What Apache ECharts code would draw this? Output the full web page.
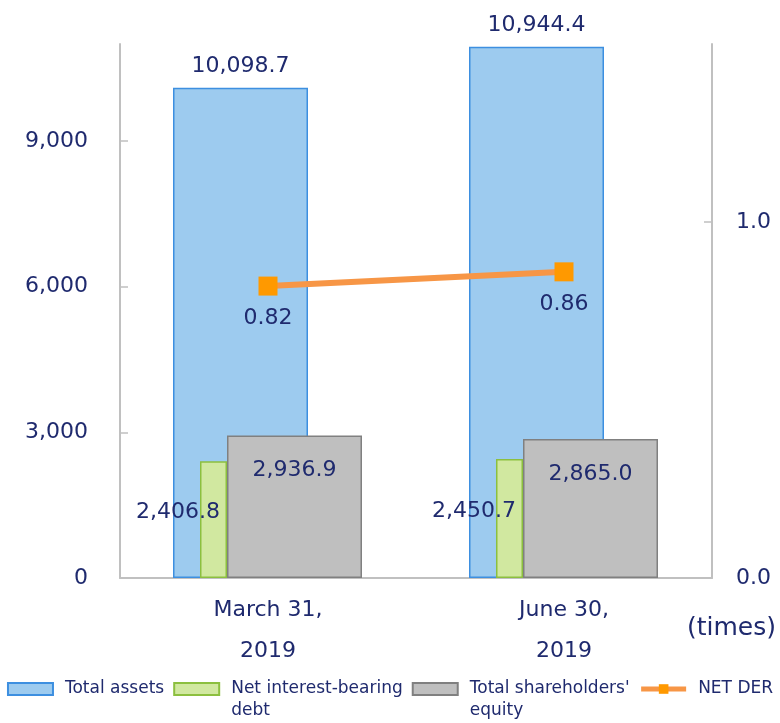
<!DOCTYPE html>
<html>
<head>
<meta charset="utf-8">
<script src="https://cdn.jsdelivr.net/npm/echarts@6/dist/echarts.min.js"></script>
<style>
  html, body { margin: 0; padding: 0; background: #fff; }
  #chart { width: 780px; height: 723px; }
</style>
</head>
<body>
<div id="chart"></div>
<script>
// data
var categories = ["March 31,\n2019", "June 30,\n2019"];
var totalAssets = [10098.7, 10944.4];
var netDebt = [2406.8, 2450.7];
var equity = [2936.9, 2865.0];
var netDer = [0.82, 0.86];
var leftTicks = [0, 3000, 6000, 9000];
var rightTicks = [0, 1];

var navy = "#1f2a6e";
var font = "DejaVu Sans";
var fmt = function (v) {
  return v.toLocaleString("en-US", { minimumFractionDigits: 1, maximumFractionDigits: 1 });
};

// 图例文字：三行，中间一行对齐图标
var legendText = {
  "Total assets": " \nTotal assets\n ",
  "Net interest-bearing debt": " \nNet interest-bearing\ndebt",
  "Total shareholders' equity": " \nTotal shareholders'\nequity",
  "NET DER": " \nNET DER\n "
};

// 用空的柱子占位，让三组柱子错开重叠
function spacer(axis, w) {
  return {
    type: "bar", name: "_sp" + axis, xAxisIndex: axis, yAxisIndex: 0,
    barWidth: w, barGap: "0%", silent: true,
    data: categories.map(function () { return "-"; })
  };
}

var chart = echarts.init(document.getElementById("chart"), null, { renderer: "canvas" });
var option = {
  animation: false,
  textStyle: { fontFamily: font, color: navy },
  title: {
    text: "(times)", left: 682, top: 611,
    textStyle: { fontFamily: font, fontSize: 25, fontWeight: "normal", color: navy }
  },
  grid: { left: 120, right: 68, top: 44, bottom: 145 },
  legend: {
    top: 651, left: "center",
    itemWidth: 45, itemHeight: 12, itemGap: 9,
    data: [
      { name: "Total assets", icon: "rect" },
      { name: "Net interest-bearing debt", icon: "rect" },
      { name: "Total shareholders' equity", icon: "rect" },
      { name: "NET DER", lineStyle: { width: 5, color: "#f79646" } }
    ],
    formatter: function (n) { return legendText[n]; },
    textStyle: { fontFamily: font, fontSize: 17, color: navy, lineHeight: 22, padding: [0, 0, 0, 7] }
  },
  xAxis: [0, 1, 2].map(function (i) {
    return {
      type: "category", data: categories, show: i === 0,
      axisLine: { lineStyle: { color: "#c0c0c0", width: 2 } },
      axisTick: { inside: true, length: 7, lineStyle: { color: "#c0c0c0", width: 1.5 } },
      axisLabel: { fontFamily: font, fontSize: 22, color: navy, lineHeight: 41, margin: 12 }
    };
  }),
  yAxis: [
    {
      type: "value", min: 0, max: 11000, interval: 3000,
      splitLine: { show: false },
      axisLine: { show: true, lineStyle: { color: "#c0c0c0", width: 2 } },
      axisTick: { show: true, inside: true, length: 8, customValues: leftTicks, lineStyle: { color: "#c0c0c0", width: 1.5 } },
      axisLabel: {
        customValues: leftTicks, margin: 32, fontFamily: font, fontSize: 22, color: navy,
        formatter: function (v) { return v.toLocaleString("en-US"); }
      }
    },
    {
      type: "value", position: "right", min: 0, max: 1.5, interval: 1,
      splitLine: { show: false },
      axisLine: { show: true, lineStyle: { color: "#c0c0c0", width: 2 } },
      axisTick: { show: true, inside: true, length: 8, customValues: rightTicks, lineStyle: { color: "#c0c0c0", width: 1.5 } },
      axisLabel: {
        customValues: rightTicks, margin: 24, fontFamily: font, fontSize: 22, color: navy,
        formatter: function (v) { return v.toFixed(1); }
      }
    }
  ],
  series: [
    {
      type: "bar", name: "Total assets", xAxisIndex: 0, yAxisIndex: 0,
      barWidth: 135, barGap: "0%", data: totalAssets,
      itemStyle: { color: "#9dcbef", borderColor: "#3d8fe0", borderWidth: 1.5 },
      label: {
        show: true, position: "top", distance: 10, fontFamily: font, fontSize: 22, color: navy,
        formatter: function (p) { return fmt(p.value); }
      }
    },
    spacer(0, 55),
    {
      type: "bar", name: "Net interest-bearing debt", xAxisIndex: 1, yAxisIndex: 0,
      barWidth: 27, barGap: "0%", data: netDebt,
      itemStyle: { color: "#d1e8a0", borderColor: "#8cbf3f", borderWidth: 1.5 },
      label: {
        show: true, position: "insideRight", distance: 7, offset: [0, -7],
        fontFamily: font, fontSize: 22, color: navy,
        formatter: function (p) { return fmt(p.value); }
      }
    },
    spacer(1, 109),
    spacer(2, 53),
    {
      type: "bar", name: "Total shareholders' equity", xAxisIndex: 2, yAxisIndex: 0,
      barWidth: 135, barGap: "0%", data: equity,
      itemStyle: { color: "#bfbfbf", borderColor: "#808080", borderWidth: 1.5 },
      label: {
        show: true, position: "insideTop", distance: 24, fontFamily: font, fontSize: 22, color: navy,
        formatter: function (p) { return fmt(p.value); }
      }
    },
    {
      type: "line", name: "NET DER", xAxisIndex: 0, yAxisIndex: 1,
      data: netDer, symbol: "rect", symbolSize: 19, z: 10,
      lineStyle: { color: "#f79646", width: 6 },
      itemStyle: { color: "#ff9900" },
      label: {
        show: true, position: "bottom", distance: 12, fontFamily: font, fontSize: 22, color: navy,
        formatter: function (p) { return p.value.toFixed(2); }
      }
    }
  ]
};
chart.setOption(option);
</script>
</body>
</html>
